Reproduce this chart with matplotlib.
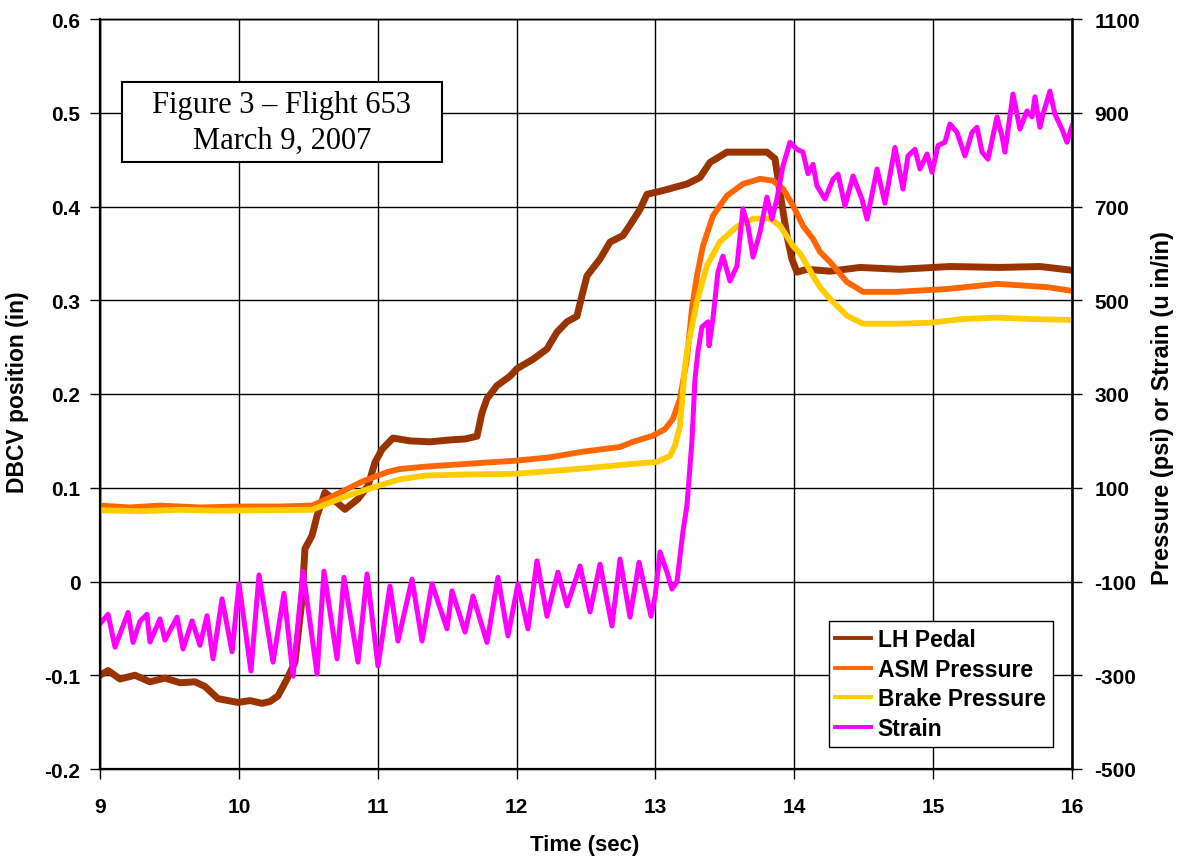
import matplotlib.pyplot as plt
from matplotlib.patches import Rectangle

plt.rcParams['font.family'] = ['Liberation Sans', 'DejaVu Sans']
plt.rcParams['font.weight'] = 'bold'
plt.rcParams['axes.unicode_minus'] = False

# LH pedal position (in), left axis
t_pedal = [9.000, 9.058, 9.144, 9.252, 9.360, 9.468, 9.576, 9.684, 9.756, 9.850,
           9.994, 10.080, 10.167, 10.224, 10.282, 10.347, 10.404, 10.455, 10.476, 10.527,
           10.563, 10.620, 10.692, 10.764, 10.858, 10.930, 10.980, 11.031, 11.110, 11.232,
           11.376, 11.520, 11.629, 11.715, 11.751, 11.787, 11.859, 11.953, 12.003, 12.118,
           12.219, 12.291, 12.363, 12.435, 12.471, 12.507, 12.601, 12.673, 12.766, 12.838,
           12.889, 12.939, 13.054, 13.227, 13.321, 13.393, 13.515, 13.659, 13.803, 13.861,
           13.897, 13.947, 13.983, 14.019, 14.091, 14.257, 14.473, 14.761, 15.121, 15.481,
           15.769, 16.000]
pedal = [-0.100, -0.095, -0.104, -0.100, -0.107, -0.103, -0.108, -0.107, -0.112, -0.125,
         -0.129, -0.127, -0.130, -0.128, -0.122, -0.104, -0.086, -0.019, 0.035, 0.049,
         0.070, 0.095, 0.086, 0.077, 0.088, 0.102, 0.127, 0.141, 0.153, 0.150,
         0.149, 0.151, 0.152, 0.155, 0.180, 0.195, 0.209, 0.219, 0.227, 0.237,
         0.248, 0.266, 0.277, 0.283, 0.305, 0.326, 0.344, 0.362, 0.369, 0.385,
         0.397, 0.413, 0.417, 0.424, 0.431, 0.447, 0.458, 0.458, 0.458, 0.451,
         0.415, 0.369, 0.344, 0.330, 0.333, 0.331, 0.335, 0.333, 0.336, 0.335,
         0.336, 0.332]

# ASM pressure (psi), right axis
t_asm = [9.000, 9.216, 9.432, 9.720, 10.008, 10.296, 10.527, 10.642, 10.764, 10.887,
         11.074, 11.160, 11.340, 11.592, 12.003, 12.241, 12.478, 12.745, 12.838, 12.982,
         13.069, 13.126, 13.177, 13.227, 13.263, 13.299, 13.342, 13.414, 13.515, 13.630,
         13.753, 13.846, 13.918, 13.991, 14.062, 14.135, 14.185, 14.257, 14.379, 14.495,
         14.740, 15.100, 15.460, 15.820, 16.000]
asm = [62, 58, 62, 58, 60, 60, 62, 77, 95, 113,
       134, 140, 145, 150, 158, 165, 177, 187, 198, 211,
       225, 247, 290, 375, 482, 552, 616, 680, 723, 748,
       759, 755, 738, 702, 659, 631, 603, 582, 539, 518,
       518, 524, 535, 528, 520]

# Brake pressure (psi), right axis
t_brake = [9.000, 9.288, 9.576, 9.864, 10.152, 10.527, 10.764, 11.002, 11.160, 11.340,
           11.592, 12.003, 12.478, 12.838, 13.011, 13.105, 13.141, 13.177, 13.213, 13.234,
           13.299, 13.371, 13.465, 13.587, 13.703, 13.825, 13.897, 13.991, 14.041, 14.091,
           14.135, 14.185, 14.257, 14.379, 14.495, 14.740, 14.977, 15.215, 15.460, 15.697,
           16.000]
brake = [52, 50, 53, 51, 52, 53, 81, 104, 118, 126,
         128, 130, 141, 151, 155, 168, 190, 232, 360, 403,
         497, 574, 625, 657, 674, 674, 659, 616, 600, 575,
         552, 528, 503, 467, 450, 450, 452, 460, 463, 460,
         458]

# Strain (u in/in), right axis
t_strain = [9.000, 9.058, 9.108, 9.202, 9.238, 9.288, 9.338, 9.360, 9.432, 9.468,
            9.555, 9.598, 9.663, 9.720, 9.771, 9.814, 9.879, 9.951, 10.001, 10.087,
            10.145, 10.246, 10.325, 10.390, 10.462, 10.563, 10.613, 10.707, 10.757, 10.858,
            10.923, 11.002, 11.088, 11.146, 11.247, 11.319, 11.391, 11.499, 11.535, 11.629,
            11.686, 11.787, 11.866, 11.938, 12.010, 12.082, 12.147, 12.219, 12.298, 12.363,
            12.457, 12.529, 12.601, 12.687, 12.745, 12.817, 12.882, 12.968, 12.997, 13.033,
            13.083, 13.119, 13.155, 13.198, 13.227, 13.263, 13.285, 13.306, 13.335, 13.378,
            13.386, 13.414, 13.450, 13.486, 13.537, 13.587, 13.630, 13.667, 13.703, 13.753,
            13.803, 13.839, 13.875, 13.918, 13.969, 14.019, 14.062, 14.099, 14.135, 14.163,
            14.221, 14.279, 14.315, 14.365, 14.423, 14.487, 14.524, 14.596, 14.653, 14.725,
            14.783, 14.819, 14.869, 14.905, 14.956, 14.992, 15.035, 15.085, 15.121, 15.172,
            15.229, 15.280, 15.316, 15.352, 15.395, 15.460, 15.496, 15.517, 15.575, 15.625,
            15.676, 15.712, 15.733, 15.769, 15.791, 15.841, 15.877, 15.928, 15.964, 16.000]
strain = [-190, -170, -240, -166, -230, -185, -170, -229, -180, -225,
          -176, -244, -184, -236, -173, -265, -137, -250, -105, -291,
          -86, -272, -125, -302, -78, -297, -78, -265, -91, -272,
          -84, -280, -110, -227, -95, -227, -105, -201, -120, -208,
          -131, -230, -91, -216, -105, -201, -56, -174, -80, -152,
          -67, -165, -63, -195, -52, -176, -59, -174, -133, -37,
          -80, -116, -101, 6, 62, 200, 332, 390, 443, 454,
          403, 460, 560, 594, 541, 573, 695, 658, 592, 645,
          720, 673, 716, 786, 837, 822, 816, 770, 790, 744,
          716, 758, 769, 701, 765, 716, 673, 780, 707, 826,
          737, 808, 822, 780, 812, 773, 830, 837, 876, 858,
          808, 858, 869, 816, 801, 891, 850, 816, 940, 865,
          904, 891, 934, 869, 897, 946, 897, 865, 837, 872]

labels = ['LH Pedal', 'ASM Pressure', 'Brake Pressure', 'Strain']
colors = ['#993300', '#FF6600', '#FFCC00', '#FF00FF']

fig = plt.figure(figsize=(11.82, 8.62), dpi=100, facecolor='w')
ax = fig.add_axes([100 / 1182, 1 - 770 / 862, 972 / 1182, 750 / 862])
ax2 = ax.twinx()

l1, = ax.plot(t_pedal, pedal, color=colors[0], lw=5.0)
l2, = ax2.plot(t_asm, asm, color=colors[1], lw=4.2)
l3, = ax2.plot(t_brake, brake, color=colors[2], lw=4.2)
l4, = ax2.plot(t_strain, strain, color=colors[3], lw=3.6)

ax.set_xlim(9, 16)
ax.set_ylim(-0.2, 0.6)
ax2.set_ylim(-500, 1100)
ax.set_xticks(range(9, 17))
ax.set_yticks([-0.2, -0.1, 0, 0.1, 0.2, 0.3, 0.4, 0.5, 0.6])
ax.set_yticklabels(['-0.2', '-0.1', '0', '0.1', '0.2', '0.3', '0.4', '0.5', '0.6'])
ax2.set_yticks(range(-500, 1101, 200))

ax.grid(True, color='black', lw=1.0)
ax.set_axisbelow(True)
ax.tick_params(axis='x', direction='out', length=7, width=1, pad=13, labelsize=15)
ax.tick_params(axis='y', direction='out', length=7, width=1, pad=7, labelsize=15)
ax2.tick_params(axis='y', direction='out', length=7, width=1, pad=9, labelsize=15)
for a in (ax, ax2):
    for s in a.spines.values():
        s.set_linewidth(1.0)
ax.spines['left'].set_linewidth(1.6)
ax.spines['bottom'].set_linewidth(1.6)
ax2.spines['right'].set_linewidth(1.8)

fig.text(18 / 1182, 1 - 392 / 862, 'DBCV position (in)', rotation=90,
         ha='center', va='center', fontsize=16.5)
fig.text(1162 / 1182, 1 - 408 / 862, 'Pressure (psi) or Strain (u in/in)', rotation=90,
         ha='center', va='center', fontsize=17)
fig.text(585 / 1182, 1 - 846 / 862, 'Time (sec)', ha='center', va='center', fontsize=16)

# title box
ax.add_patch(Rectangle((0.0226, 0.8093), 0.3292, 0.1067, transform=ax.transAxes,
                       facecolor='white', edgecolor='black', lw=1.5, zorder=5))
ax.text(0.187, 0.862, 'Figure 3 \u2013 Flight 653\nMarch 9, 2007', transform=ax.transAxes,
        ha='center', va='center', fontsize=22, fontweight='normal',
        family=['Liberation Serif', 'DejaVu Serif'], linespacing=1.3, zorder=6)

leg = ax2.legend([l1, l2, l3, l4], labels, loc='lower right',
                 bbox_to_anchor=(0.98, 0.029), fontsize=16.5, frameon=True,
                 fancybox=False, framealpha=1, edgecolor='black',
                 handlelength=1.55, handletextpad=0.3, labelspacing=0.3,
                 borderpad=0.3, borderaxespad=0)
leg.get_frame().set_linewidth(1.0)
for h in leg.get_lines():
    h.set_linewidth(2.8)

plt.savefig('out.png', dpi=100)
